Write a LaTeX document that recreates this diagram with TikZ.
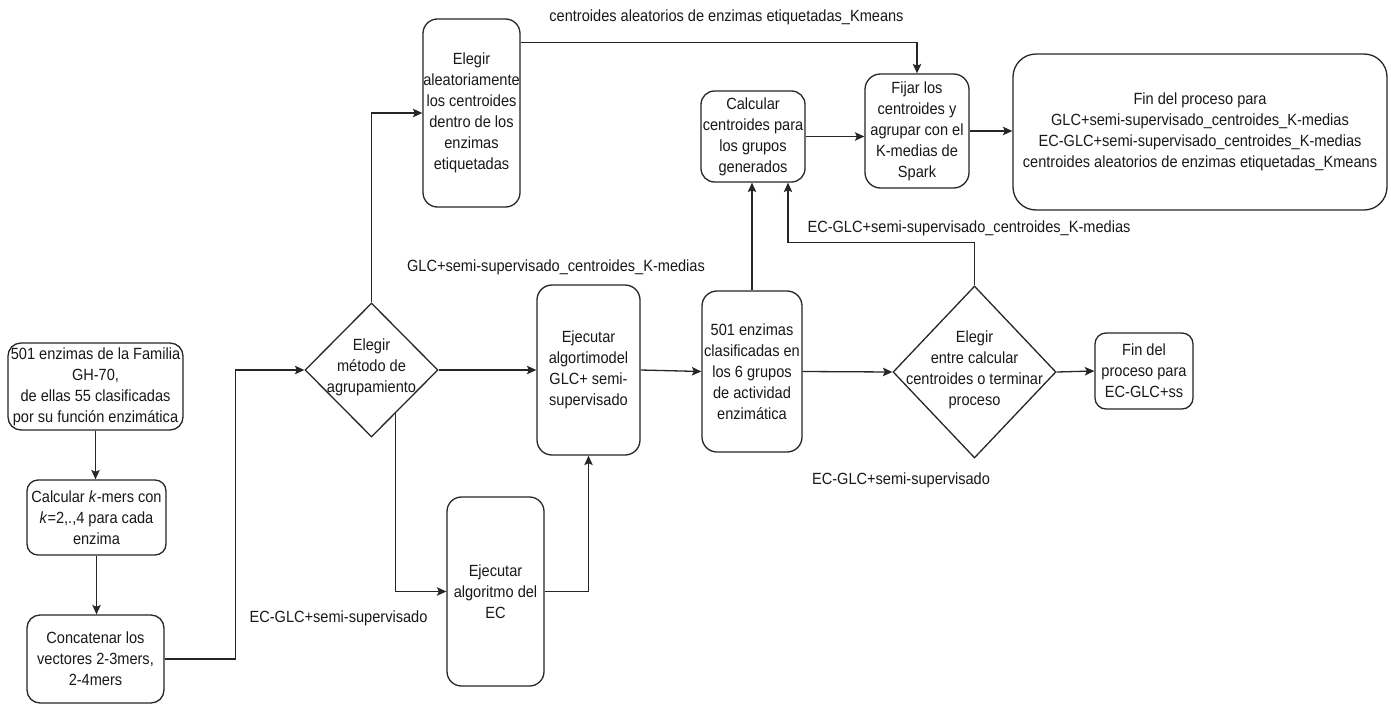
\documentclass[tikz,border=0pt]{standalone}
\usepackage{fontspec}
\setmainfont{Liberation Sans}[FakeStretch=0.9]
\usetikzlibrary{shapes.geometric,arrows.meta,calc}
\begin{document}
\begin{tikzpicture}[x=1pt,y=-1pt,
  every node/.style={font=\fontsize{16.2pt}{21pt}\selectfont, text=black!90},
  box/.style={draw=black!85, line width=1.3pt, align=center, inner sep=0pt},
  dia/.style={draw=black!85, diamond, line width=1.3pt, inner sep=0pt},
  txt/.style={align=center, inner sep=0pt},
  lbl/.style={inner sep=0pt},
  arr/.style={draw=black!85, line width=1.3pt, -{Stealth[length=9.5pt,width=8.5pt,inset=2pt]}},
]
\path[use as bounding box, fill=white] (0,0) rectangle (1391,704);

% boxes
\node[box, minimum width=175pt, minimum height=87pt, rounded corners=13pt] (n1) at (95.5,386.5)
  {501 enzimas de la Familia\\GH-70,\\de ellas 55 clasificadas\\por su función enzimática};
\node[box, minimum width=139pt, minimum height=75pt, rounded corners=11pt] (n2) at (96.5,517.5)
  {Calcular \textit{k}-mers con\\\textit{k}=2,.,4 para cada\\enzima};
\node[box, minimum width=137pt, minimum height=88pt, rounded corners=13pt] (n3) at (95.5,659)
  {Concatenar los\\vectores 2-3mers,\\2-4mers};
\node[dia, minimum width=133pt, minimum height=134pt] (d1) at (371.5,370) {};
\node[txt] (d1t) at (371.5,367) {Elegir\\método de\\agrupamiento};
\node[box, minimum width=97pt, minimum height=188pt, rounded corners=14.5pt] (n4) at (471.5,113)
  {Elegir\\aleatoriamente\\los centroides\\dentro de los\\enzimas\\etiquetadas};
\node[box, minimum width=103pt, minimum height=170pt, rounded corners=15pt] (n5) at (588.5,370)
  {Ejecutar\\algortimodel\\GLC+ semi-\\supervisado};
\node[box, minimum width=97pt, minimum height=189pt, rounded corners=14.5pt] (n7) at (495.5,591.5)
  {Ejecutar\\algoritmo del\\EC};
\node[box, minimum width=100pt, minimum height=161pt, rounded corners=15pt] (n8) at (752,371.5)
  {501 enzimas\\clasificadas en\\los 6 grupos\\de actividad\\enzimática};
\node[box, minimum width=104pt, minimum height=91pt, rounded corners=13.5pt] (n6) at (753,136.5)
  {Calcular\\centroides para\\los grupos\\generados};
\node[box, minimum width=104pt, minimum height=114pt, rounded corners=15.5pt] (n9) at (917,131)
  {Fijar los\\centroides y\\agrupar con el\\K-medias de\\Spark};
\node[box, minimum width=374pt, minimum height=156pt, rounded corners=23pt] (n10) at (1200,132)
  {Fin del proceso para\\GLC+semi-supervisado\_centroides\_K-medias\\EC-GLC+semi-supervisado\_centroides\_K-medias\\centroides aleatorios de enzimas etiquetadas\_Kmeans};
\node[dia, minimum width=163pt, minimum height=172pt] (d2) at (974.5,372) {};
\node[txt] (d2t) at (974.5,370) {Elegir\\entre calcular\\centroides o terminar\\proceso};
\node[box, minimum width=98pt, minimum height=76pt, rounded corners=11pt] (n11) at (1144,371)
  {Fin del\\proceso para\\EC-GLC+ss};

% labels
\node[lbl] (L1) at (726.5,17) {centroides aleatorios de enzimas etiquetadas\_Kmeans};
\node[lbl] (L2) at (556,267) {GLC+semi-supervisado\_centroides\_K-medias};
\node[lbl] (L3) at (338.5,618) {EC-GLC+semi-supervisado};
\node[lbl] (L4) at (969,228) {EC-GLC+semi-supervisado\_centroides\_K-medias};
\node[lbl] (L5) at (901,480) {EC-GLC+semi-supervisado};

% connectors
\draw[arr] (n1.south) -- (n1.south |- n2.north);
\draw[arr] (n2.south) -- (n2.south |- n3.north);
\draw[arr] (n3.east) -- ++(71,0) |- (d1.west);
\draw[arr] (d1.north) |- (n4.west);
\draw[arr] (d1.east) -- (n5.west);
\draw[arr] ($(d1.south)!0.36!(d1.east)$) |- (n7.west);
\draw[arr] (n7.east) -| (n5.south);
\draw[arr] (n5.east) -- (n8.west);
\draw[arr] (n8.east) -- (d2.west);
\draw[arr] (d2.east) -- (n11.west);
\draw[arr] (n8.north) -- (n8.north |- n6.south);
\draw[arr] (d2.north) -- ++(0,-43) -| ([xshift=35pt]n6.south);
\draw[arr] (n6.east) -- (n6.east -| n9.west);
\draw[arr] (n9.east) -- (n9.east -| n10.west);
\draw[arr] ([yshift=-24pt]n4.north east) -| (n9.north);
\end{tikzpicture}
\end{document}
